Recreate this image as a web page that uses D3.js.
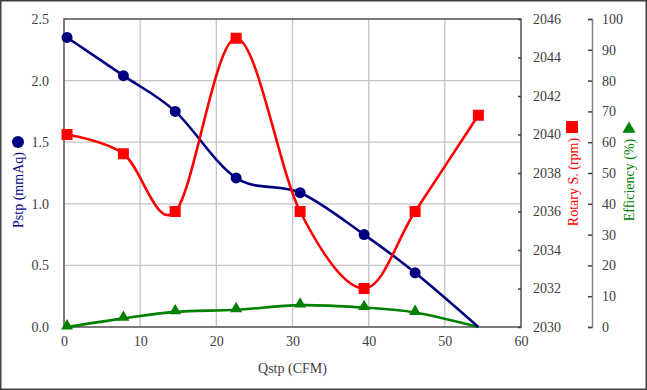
<!DOCTYPE html>
<meta charset="utf-8">
<script src="https://d3js.org/d3.v7.min.js"></script>
<html>
<head>
  <title>Qstp chart</title>
  <style>
    body { margin: 0; background: #fff; }
    text { font-family: "Liberation Serif", "Times New Roman", serif; }
  </style>
</head>
<body>
  <div id="my_dataviz"></div>
</body>
</html>

<script>
  // data
  var qstp = [0.4, 7.8, 14.6, 22.6, 31.0, 39.4, 46.1, 54.4];
  var pstp = [2.35, 2.04, 1.75, 1.21, 1.09, 0.75, 0.44, 0.0];
  var rotary = [2040, 2039, 2036, 2045, 2036, 2032, 2036, 2041];
  var efficiency = [0, 2.8, 4.9, 5.6, 7.1, 6.3, 4.7, 0];

  var xTicks = [0, 10, 20, 30, 40, 50, 60];
  var pTicks = [0, 0.5, 1.0, 1.5, 2.0, 2.5];
  var rTicks = [2030, 2032, 2034, 2036, 2038, 2040, 2042, 2044, 2046];
  var eTicks = [0, 10, 20, 30, 40, 50, 60, 70, 80, 90, 100];

  var W = 647, H = 390;
  // plot box (note: "top" is reserved on window, so use a margin object)
  var plot = {left: 64, right: 521, top: 19, bottom: 327};

  var navy = "#000080", red = "#ff0000", green = "#008000", txt = "#404040";

  var svg = d3.select("#my_dataviz")
    .append("svg")
      .attr("width", W)
      .attr("height", H);

  // outer border
  svg.append("rect")
    .attr("x", 0.75).attr("y", 0.75)
    .attr("width", W - 1.5).attr("height", H - 1.5)
    .attr("fill", "#fff")
    .attr("stroke", "#404040")
    .attr("stroke-width", 1.5);

  var x = d3.scaleLinear().domain([0, 60]).range([plot.left, plot.right]);
  var yP = d3.scaleLinear().domain([0, 2.5]).range([plot.bottom, plot.top]);
  var yR = d3.scaleLinear().domain([2030, 2046]).range([plot.bottom, plot.top]);
  var yE = d3.scaleLinear().domain([0, 100]).range([plot.bottom, plot.top]);

  // grid
  svg.append("g").selectAll("line")
    .data(pTicks.slice(1, -1))
    .enter().append("line")
      .attr("x1", plot.left).attr("x2", plot.right)
      .attr("y1", function(d) { return yP(d); })
      .attr("y2", function(d) { return yP(d); })
      .attr("stroke", "#c4c4c4")
      .attr("stroke-width", 1.3);
  svg.append("g").selectAll("line")
    .data(xTicks.slice(1, -1))
    .enter().append("line")
      .attr("y1", plot.top).attr("y2", plot.bottom)
      .attr("x1", function(d) { return x(d); })
      .attr("x2", function(d) { return x(d); })
      .attr("stroke", "#c4c4c4")
      .attr("stroke-width", 1.3);

  // plot frame
  svg.append("rect")
    .attr("x", plot.left).attr("y", plot.top)
    .attr("width", plot.right - plot.left).attr("height", plot.bottom - plot.top)
    .attr("fill", "none")
    .attr("stroke", "#505050")
    .attr("stroke-width", 1.5);

  function styleAxis(g) {
    g.selectAll("text")
      .style("font-size", "14px")
      .attr("fill", txt);
    g.selectAll(".tick line").attr("stroke", txt).attr("stroke-width", 1.5);
  }

  // left axis
  svg.append("g")
    .attr("transform", "translate(" + plot.left + ",0)")
    .call(d3.axisLeft(yP).tickValues(pTicks).tickFormat(d3.format(".1f")).tickSize(0).tickPadding(15))
    .call(function(g) { g.select(".domain").remove(); })
    .call(styleAxis);

  // bottom axis
  svg.append("g")
    .attr("transform", "translate(0," + plot.bottom + ")")
    .call(d3.axisBottom(x).tickValues(xTicks).tickSize(0).tickPadding(9))
    .call(function(g) { g.select(".domain").remove(); })
    .call(styleAxis);

  // rotary axis (on right frame edge)
  svg.append("g")
    .attr("transform", "translate(" + plot.right + ",0)")
    .call(d3.axisRight(yR).tickValues(rTicks).tickFormat(d3.format("d")).tickSize(-3).tickPadding(12))
    .call(function(g) { g.select(".domain").remove(); })
    .call(styleAxis);

  // efficiency axis
  var effX = 592;
  svg.append("g")
    .attr("transform", "translate(" + effX + ",0)")
    .call(d3.axisRight(yE).tickValues(eTicks).tickSize(-4).tickPadding(10))
    .call(function(g) { g.select(".domain").attr("stroke", "#808080").attr("stroke-width", 1.5); })
    .call(styleAxis);

  // lines
  var curve = d3.curveCatmullRom.alpha(0);
  function drawLine(vals, yScale, color) {
    var line = d3.line()
      .x(function(d, i) { return x(qstp[i]); })
      .y(function(d) { return yScale(d); })
      .curve(curve);
    svg.append("path")
      .datum(vals)
      .attr("d", line)
      .attr("fill", "none")
      .attr("stroke", color)
      .attr("stroke-width", 2.6);
  }
  drawLine(efficiency, yE, green);
  drawLine(pstp, yP, navy);
  drawLine(rotary, yR, red);

  // markers (last blue / green points have no marker in the original)
  svg.append("g").selectAll("path")
    .data(efficiency.slice(0, -1))
    .enter().append("path")
      .attr("d", d3.symbol().type(d3.symbolTriangle).size(62))
      .attr("transform", function(d, i) { return "translate(" + x(qstp[i]) + "," + (yE(d) - 1) + ")"; })
      .attr("fill", green);

  svg.append("g").selectAll("circle")
    .data(pstp.slice(0, -1))
    .enter().append("circle")
      .attr("cx", function(d, i) { return x(qstp[i]); })
      .attr("cy", function(d) { return yP(d); })
      .attr("r", 5.5)
      .attr("fill", navy);

  svg.append("g").selectAll("rect")
    .data(rotary)
    .enter().append("rect")
      .attr("x", function(d, i) { return x(qstp[i]) - 5.5; })
      .attr("y", function(d) { return yR(d) - 5.5; })
      .attr("width", 11).attr("height", 11)
      .attr("fill", red);

  // axis titles
  svg.append("text")
    .attr("x", (plot.left + plot.right) / 2)
    .attr("y", 373)
    .attr("text-anchor", "middle")
    .style("font-size", "14px")
    .attr("fill", txt)
    .text("Qstp (CFM)");

  function vTitle(cx, cy, label, color) {
    svg.append("text")
      .attr("transform", "translate(" + cx + "," + cy + ")rotate(-90)")
      .attr("text-anchor", "middle")
      .attr("dy", "0.35em")
      .style("font-size", "14px")
      .attr("fill", color)
      .text(label);
  }

  vTitle(18, 190, "Pstp (mmAq)", navy);
  svg.append("circle").attr("cx", 18).attr("cy", 142).attr("r", 6).attr("fill", navy);

  vTitle(573, 182, "Rotary S. (rpm)", red);
  svg.append("rect").attr("x", 566).attr("y", 121).attr("width", 12).attr("height", 12).attr("fill", red);

  vTitle(629, 180, "Efficiency (%)", green);
  svg.append("path")
    .attr("d", d3.symbol().type(d3.symbolTriangle).size(75))
    .attr("transform", "translate(629,129)")
    .attr("fill", green);
</script>
